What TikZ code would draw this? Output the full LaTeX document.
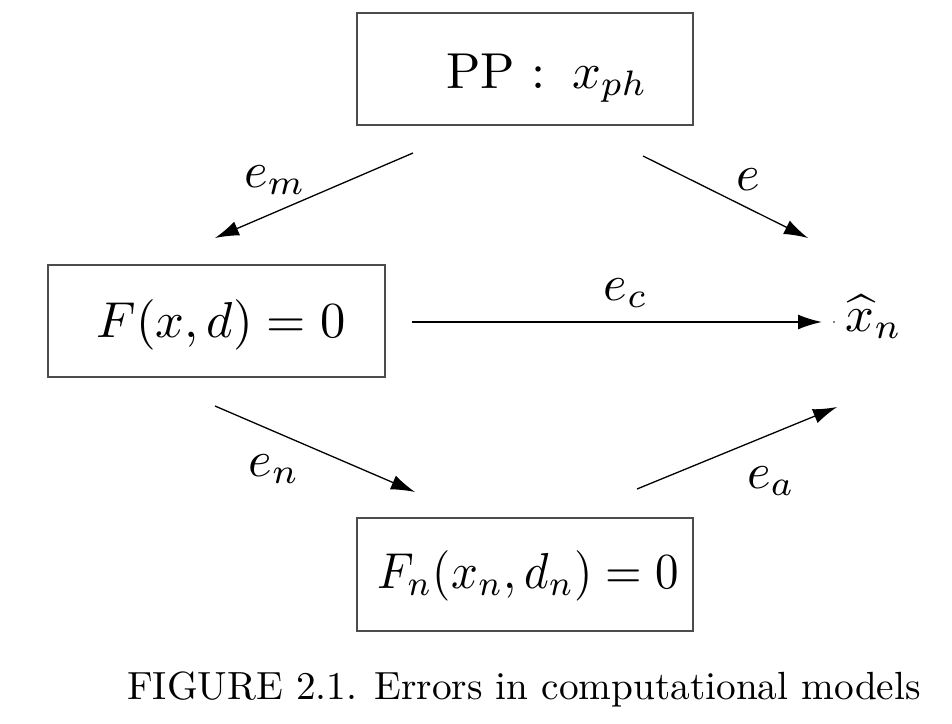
\documentclass[tikz,border=0pt]{standalone}
\usetikzlibrary{arrows.meta}
\begin{document}
\begin{tikzpicture}[x=1pt,y=-1pt,
  box/.style={draw=black!70, line width=1.3pt, inner sep=0pt, minimum width=336pt, minimum height=112pt},
  txt/.style={font=\fontsize{10}{12}\selectfont, inner sep=0pt, anchor=base, scale=5.05},
  arr/.style={-{Latex[length=24pt,width=15pt]}, line width=1.3pt},
  captiontxt/.style={font=\fontsize{10}{12}\selectfont, inner sep=0pt, anchor=base, scale=3.93}]
\useasboundingbox (0,0) rectangle (952,723);
% boxes
\node[box] (pp) at (525,69) {};
\node[box, minimum width=337pt] (fx) at (216.5,321) {};
\node[box, minimum height=113pt] (fn) at (525,574.5) {};
% box texts
\node[txt] (ppt) at (547,88) {PP :\hspace{5.2pt}$x_{ph}$};
\node[txt, xscale=0.93] (fnt) at (528,588) {$F_n(x_n,d_n)=0$};
\node[txt] (fxt) at (221,337) {$F(x,d)=0$};
\node[txt] (xh) at (874,331) {$\widehat{x}_n$};
% arrow end points
\coordinate (m1) at (413,153); \coordinate (m2) at (215,238);
\coordinate (e1) at (643,156); \coordinate (e2) at (808,238);
\coordinate (c1) at (412,322); \coordinate (c2) at (822,322);
\coordinate (n1) at (215,406); \coordinate (n2) at (415,492);
\coordinate (a1) at (637,489); \coordinate (a2) at (837,407);
\coordinate (dot) at (834,322);
\draw[arr] (m1) -- (m2);
\draw[arr] (e1) -- (e2);
\draw[arr, line width=1.8pt] (c1) -- (c2);
\draw[arr] (n1) -- (n2);
\draw[arr] (a1) -- (a2);
\fill (dot) circle (0.9pt);
% labels
\node[txt] (lm) at (275,187) {$e_m$};
\node[txt] (le) at (748,190) {$e$};
\node[txt] (lc) at (626,300) {$e_c$};
\node[txt] (ln) at (274,476) {$e_n$};
\node[txt] (la) at (771,488) {$e_a$};
% caption
\node[captiontxt] (caption) at (524,699) {FIGURE 2.1. Errors in computational models};
\end{tikzpicture}
\end{document}
